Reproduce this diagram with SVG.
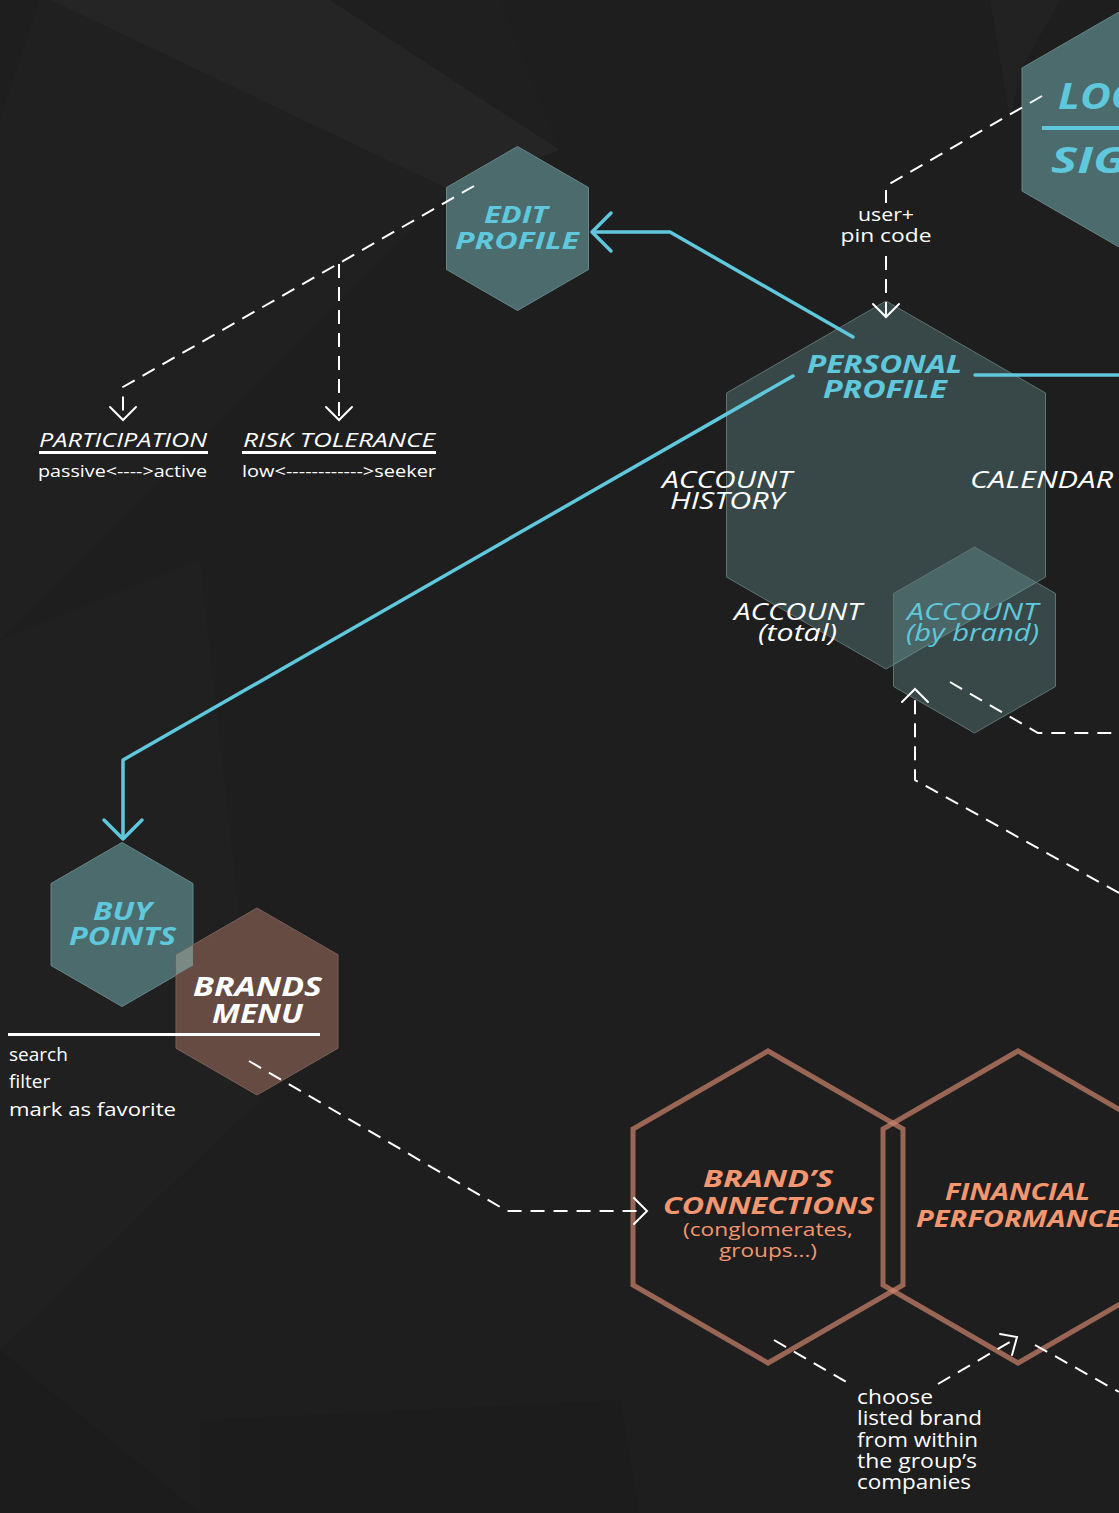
<svg xmlns="http://www.w3.org/2000/svg" width="1119" height="1513" viewBox="0 0 1119 1513">
<defs>
<style>
.bg{fill:#1e1e1e}
.facet{fill:#ffffff}
.hexT{fill:#4b6b6d;stroke:#67878a;stroke-width:1}
.hexP{fill:rgb(118,172,172);fill-opacity:0.3;stroke:#5e7474;stroke-width:1}
.hexB{fill:#654b42;stroke:#7a6158;stroke-width:1}
.hexO{fill:none;stroke:rgb(205,132,110);stroke-opacity:0.7;stroke-width:5}
.cy{fill:#5fc8dc}
.or{fill:#f4966f}
.wh{fill:#ffffff}
.h{font-family:"Open Sans","Noto Sans",sans-serif;font-style:italic;font-weight:700}
.m{font-family:"Open Sans","Noto Sans",sans-serif;font-style:italic;font-weight:500}
.r{font-family:"Open Sans","Noto Sans",sans-serif;font-weight:500}
.cl{fill:none;stroke:#5fc8dc;stroke-width:3.5;stroke-linecap:round;stroke-linejoin:round}
.dl{fill:none;stroke:#ffffff;stroke-width:2;stroke-dasharray:14 9}
.ah{fill:none;stroke:#ffffff;stroke-width:2;stroke-linecap:round;stroke-linejoin:miter}
</style>
</defs>
<rect class="bg" x="0" y="0" width="1119" height="1513"/>
<g id="background">
<polygon class="facet" fill-opacity="0.03" points="50,0 330,0 560,150 450,190"/>
<polygon class="facet" fill-opacity="0.012" points="0,120 40,0 50,0 450,190 0,640"/>
<polygon class="facet" fill-opacity="0.02" points="990,0 1060,0 1022,68 1010,120"/>
<polygon class="facet" fill-opacity="0.01" points="0,640 200,560 260,1100 0,1350"/>
<polygon class="facet" fill-opacity="0.008" points="330,0 500,0 560,150"/>
<polygon fill="#000000" fill-opacity="0.06" points="0,1350 200,1513 0,1513"/>
<polygon fill="#000000" fill-opacity="0.04" points="200,1420 620,1400 640,1513 200,1513"/>
</g>

<g id="login">
<polygon class="hexT" points="1128.5,6.5 1235,68 1235,191 1128.5,252.5 1022,191 1022,68"/>
<text class="h cy" x="1058" y="109" font-size="36" textLength="82" lengthAdjust="spacingAndGlyphs">LOG</text>
<rect class="cy" x="1042" y="126" width="77" height="4"/>
<text class="h cy" x="1051" y="173" font-size="36" textLength="76" lengthAdjust="spacingAndGlyphs">SIG</text>
</g>

<g id="user-pin">
<text class="r wh" font-size="19" text-anchor="middle" x="886" y="221" textLength="56" lengthAdjust="spacingAndGlyphs">user+</text>
<text class="r wh" font-size="19" text-anchor="middle" x="886" y="242" textLength="91" lengthAdjust="spacingAndGlyphs">pin code</text>
</g>

<g id="edit-profile">
<polygon class="hexT" points="517.5,146.5 588.5,187.5 588.5,269.5 517.5,310.5 446.5,269.5 446.5,187.5"/>
<text class="h cy" font-size="24" x="484" y="223" textLength="64" lengthAdjust="spacingAndGlyphs">EDIT</text>
<text class="h cy" font-size="24" x="455" y="249" textLength="124" lengthAdjust="spacingAndGlyphs">PROFILE</text>
</g>

<g id="participation">
<text class="m wh" font-size="20" x="39" y="447" textLength="168" lengthAdjust="spacingAndGlyphs">PARTICIPATION</text>
<rect class="wh" x="39" y="451" width="169" height="3"/>
<text class="r wh" font-size="16" x="38" y="477" textLength="169" lengthAdjust="spacingAndGlyphs">passive&lt;----&gt;active</text>
</g>

<g id="risk-tolerance">
<text class="m wh" font-size="20" x="243" y="447" textLength="192" lengthAdjust="spacingAndGlyphs">RISK TOLERANCE</text>
<rect class="wh" x="242" y="451" width="194" height="3"/>
<text class="r wh" font-size="16" x="242" y="477" textLength="194" lengthAdjust="spacingAndGlyphs">low&lt;------------&gt;seeker</text>
</g>

<g id="personal-profile">
<polygon class="hexP" points="886,301 1045.5,393 1045.5,577 886,669 726.5,577 726.5,393"/>
<text class="h cy" font-size="25" x="807" y="373" textLength="155" lengthAdjust="spacingAndGlyphs">PERSONAL</text>
<text class="h cy" font-size="25" x="823" y="398" textLength="124" lengthAdjust="spacingAndGlyphs">PROFILE</text>
</g>

<g id="account-history">
<text class="m wh" font-size="24" x="662" y="488" textLength="130" lengthAdjust="spacingAndGlyphs">ACCOUNT</text>
<text class="m wh" font-size="24" x="670" y="509" textLength="114" lengthAdjust="spacingAndGlyphs">HISTORY</text>
</g>

<g id="calendar">
<text class="m wh" font-size="24" x="970" y="488" textLength="143" lengthAdjust="spacingAndGlyphs">CALENDAR</text>
</g>

<g id="account-total">
<text class="m wh" font-size="24" x="734" y="620" textLength="128" lengthAdjust="spacingAndGlyphs">ACCOUNT</text>
<text class="m wh" font-size="24" x="758" y="641" textLength="79" lengthAdjust="spacingAndGlyphs">(total)</text>
</g>

<g id="account-by-brand">
<polygon class="hexP" points="974.5,547 1055.5,593.5 1055.5,686.5 974.5,733 893.5,686.5 893.5,593.5"/>
<text class="m cy" font-size="24" font-weight="400" x="907" y="620" textLength="131" lengthAdjust="spacingAndGlyphs">ACCOUNT</text>
<text class="m cy" font-size="24" font-weight="400" x="906" y="641" textLength="133" lengthAdjust="spacingAndGlyphs">(by brand)</text>
</g>

<g id="buy-points">
<polygon class="hexT" points="122,842.5 193,883.5 193,965.5 122,1006.5 51,965.5 51,883.5"/>
<text class="h cy" font-size="25" x="93" y="920" textLength="59" lengthAdjust="spacingAndGlyphs">BUY</text>
<text class="h cy" font-size="25" x="69" y="945" textLength="107" lengthAdjust="spacingAndGlyphs">POINTS</text>
</g>

<g id="brands-menu">
<polygon class="hexB" points="257,908 338,954.75 338,1048.25 257,1095 176,1048.25 176,954.75"/>
<polygon fill="#7b8985" points="176,954.75 193,944.9 193,965.5 176,975.3"/>
<text class="h wh" font-size="26" x="193" y="996" textLength="129" lengthAdjust="spacingAndGlyphs">BRANDS</text>
<text class="h wh" font-size="26" x="212" y="1023" textLength="91" lengthAdjust="spacingAndGlyphs">MENU</text>
<rect class="wh" x="8" y="1033" width="312" height="3"/>
<text class="r wh" font-size="19" x="9" y="1061">search</text>
<text class="r wh" font-size="19" x="9" y="1088">filter</text>
<text class="r wh" font-size="19" x="9" y="1116" textLength="167" lengthAdjust="spacingAndGlyphs">mark as favorite</text>
</g>

<g id="brands-connections">
<polygon class="hexO" points="768,1051 903,1129 903,1285 768,1363 633,1285 633,1129"/>
<text class="h or" font-size="24" x="703" y="1187" textLength="130" lengthAdjust="spacingAndGlyphs">BRAND’S</text>
<text class="h or" font-size="24" x="663" y="1214" textLength="211" lengthAdjust="spacingAndGlyphs">CONNECTIONS</text>
<text class="r or" font-size="19" font-weight="400" x="683" y="1236" textLength="170" lengthAdjust="spacingAndGlyphs">(conglomerates,</text>
<text class="r or" font-size="19" font-weight="400" x="719" y="1257" textLength="98" lengthAdjust="spacingAndGlyphs">groups...)</text>
</g>

<g id="financial-performance">
<polygon class="hexO" points="1018,1051 1153,1129 1153,1285 1018,1363 883,1285 883,1129"/>
<text class="h or" font-size="24" x="945" y="1200" textLength="145" lengthAdjust="spacingAndGlyphs">FINANCIAL</text>
<text class="h or" font-size="24" x="916" y="1227" textLength="205" lengthAdjust="spacingAndGlyphs">PERFORMANCE</text>
</g>

<g id="choose-note">
<text class="r wh" font-size="20" x="857" y="1404" textLength="76" lengthAdjust="spacingAndGlyphs">choose</text>
<text class="r wh" font-size="20" x="857" y="1425" textLength="125" lengthAdjust="spacingAndGlyphs">listed brand</text>
<text class="r wh" font-size="20" x="857" y="1447" textLength="121" lengthAdjust="spacingAndGlyphs">from within</text>
<text class="r wh" font-size="20" x="857" y="1468" textLength="120" lengthAdjust="spacingAndGlyphs">the group’s</text>
<text class="r wh" font-size="20" x="857" y="1489" textLength="114" lengthAdjust="spacingAndGlyphs">companies</text>
</g>

<g id="connectors">
<polyline class="cl" points="853,337 670,232 593,232"/>
<polyline class="cl" points="611,213 592,232 611,251"/>
<line class="cl" x1="975" y1="375" x2="1119" y2="375"/>
<polyline class="cl" points="793,376 123,760 123,838"/>
<polyline class="cl" points="104,820 123,839 142,820"/>
<polyline class="dl" points="1042,96 886,186 886,203"/>
<line class="dl" x1="886" y1="256" x2="886" y2="316"/>
<polyline class="ah" points="873,304 886,317 899,304"/>
<polyline class="dl" points="474,186 123,387 123,419"/>
<polyline class="ah" points="110,407 123,420 136,407"/>
<line class="dl" x1="339" y1="264" x2="339" y2="419"/>
<polyline class="ah" points="326,407 339,420 352,407"/>
<polyline class="dl" points="950,682 1038,733 1119,733"/>
<polyline class="dl" points="1119,893 915,780 915,692"/>
<polyline class="ah" points="902,702 915,689 928,702"/>
<polyline class="dl" points="249,1061 507,1211 645,1211"/>
<polyline class="ah" points="634,1198 647,1211 634,1224"/>
<line class="dl" x1="774" y1="1340" x2="848" y2="1383"/>
<line class="dl" x1="938" y1="1384" x2="1015" y2="1339"/>
<polyline class="ah" points="1000,1334 1017,1337 1012,1355"/>
<line class="dl" x1="1035" y1="1345" x2="1119" y2="1392"/>
</g>
</svg>
